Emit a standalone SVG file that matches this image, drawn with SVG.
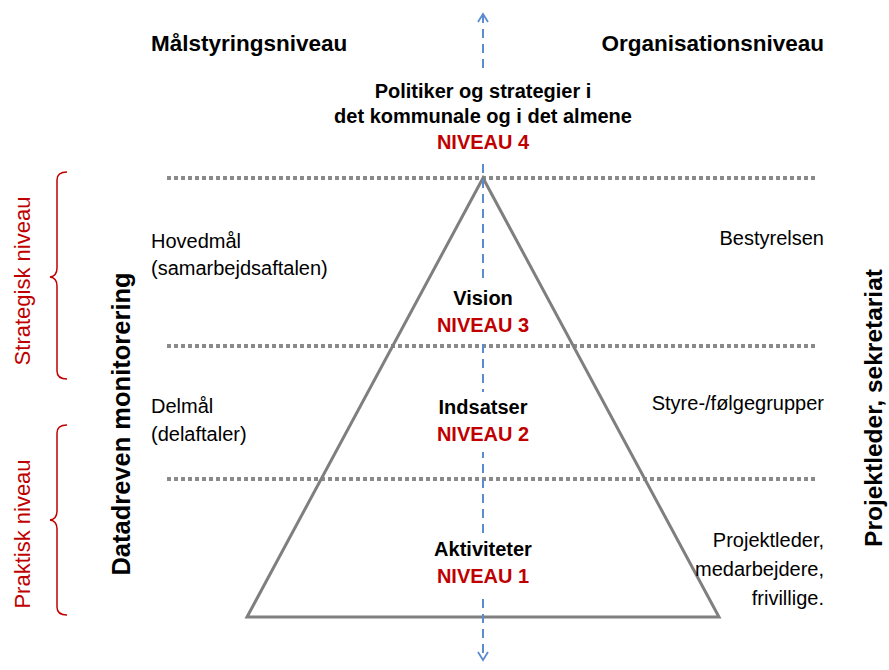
<svg xmlns="http://www.w3.org/2000/svg" width="889" height="670" viewBox="0 0 889 670">
<defs>
<style>
text{font-family:"Liberation Sans",Arial,sans-serif;fill:#000}
.h{font-size:22.5px;font-weight:bold}
.b{font-size:20px;font-weight:bold}
.r{font-size:20px}
.red{fill:#c00000}
.c{text-anchor:middle}
.e{text-anchor:end}
.dot{stroke:#8a8a8a;stroke-width:4;stroke-dasharray:4 3;fill:none}
.br{stroke:#c00000;stroke-width:1.5;fill:none}
.bg{fill:#fff}
</style>
<marker id="ah" viewBox="0 0 12 12" refX="10" refY="6" markerWidth="12" markerHeight="12" markerUnits="userSpaceOnUse" orient="auto-start-reverse">
<path d="M2,1 L10,6 L2,11" fill="none" stroke="#5b8bd0" stroke-width="1.8"/>
</marker>
</defs>
<rect width="889" height="670" fill="#fff"/>
<g id="connectors">
<line class="dot" x1="167" y1="178" x2="818" y2="178"/>
<line class="dot" x1="167" y1="346" x2="818" y2="346"/>
<line class="dot" x1="167" y1="479" x2="818" y2="479"/>
</g>
<g id="pyramid">
<polygon points="483,178 247,617 719,617" fill="none" stroke="#7f7f7f" stroke-width="3" stroke-linejoin="miter"/>
</g>
<g id="axis">
<line x1="483" y1="14" x2="483" y2="660" stroke="#5b8bd0" stroke-width="2" stroke-dasharray="9 6" marker-start="url(#ah)" marker-end="url(#ah)"/>
</g>
<g id="headers">
<text class="h" x="151" y="51">Målstyringsniveau</text>
<text class="h e" x="824" y="51">Organisationsniveau</text>
</g>
<g id="niveau4">
<rect class="bg" x="470" y="70" width="26" height="88"/>
<text class="b c" x="483" y="98">Politiker og strategier i</text>
<text class="b c" x="483" y="123">det kommunale og i det almene</text>
<text class="b c red" x="483" y="149">NIVEAU 4</text>
</g>
<g id="niveau3">
<rect class="bg" x="470" y="283" width="26" height="59"/>
<text class="b c" x="483" y="305">Vision</text>
<text class="b c red" x="483" y="332">NIVEAU 3</text>
</g>
<g id="niveau2">
<rect class="bg" x="470" y="392" width="26" height="60"/>
<text class="b c" x="483" y="414">Indsatser</text>
<text class="b c red" x="483" y="441">NIVEAU 2</text>
</g>
<g id="niveau1">
<rect class="bg" x="470" y="533" width="26" height="60"/>
<text class="b c" x="483" y="556">Aktiviteter</text>
<text class="b c red" x="483" y="583">NIVEAU 1</text>
</g>
<g id="left-labels">
<text class="r" x="151" y="248">Hovedmål</text>
<text class="r" x="151" y="275">(samarbejdsaftalen)</text>
<text class="r" x="151" y="413">Delmål</text>
<text class="r" x="151" y="441">(delaftaler)</text>
</g>
<g id="right-labels">
<text class="r e" x="824" y="245">Bestyrelsen</text>
<text class="r e" x="824" y="410">Styre-/følgegrupper</text>
<text class="r e" x="824" y="547">Projektleder,</text>
<text class="r e" x="824" y="576">medarbejdere,</text>
<text class="r e" x="824" y="605">frivillige.</text>
</g>
<g id="strategisk">
<path class="br" d="M67,172 Q57,172 57,180 L57,268 Q57,276 50,277 Q57,278 57,286 L57,371 Q57,379 67,379"/>
<text class="red c" font-size="22" transform="translate(30,281) rotate(-90)">Strategisk niveau</text>
</g>
<g id="praktisk">
<path class="br" d="M67,425 Q57,425 57,433 L57,511 Q57,519 50,520 Q57,521 57,529 L57,607 Q57,615 67,615"/>
<text class="red c" font-size="22" transform="translate(30,534) rotate(-90)">Praktisk niveau</text>
</g>
<g id="datadreven">
<text class="c" font-size="25.5" font-weight="bold" transform="translate(130,424) rotate(-90)">Datadreven monitorering</text>
</g>
<g id="projektleder">
<text class="c" font-size="24.5" font-weight="bold" transform="translate(882,408) rotate(-90)">Projektleder, sekretariat</text>
</g>
</svg>
